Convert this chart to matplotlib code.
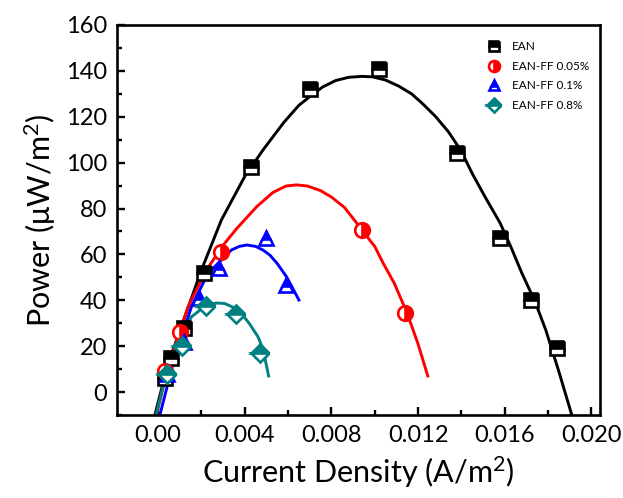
import numpy as np
import matplotlib
matplotlib.use("Agg")
import matplotlib.pyplot as plt
from matplotlib.ticker import MultipleLocator

plt.rcParams['font.family'] = ['Lato', 'DejaVu Sans']
plt.rcParams['mathtext.fontset'] = 'custom'
plt.rcParams['mathtext.rm'] = 'Lato'
plt.rcParams['mathtext.it'] = 'Lato'

# Messpunkte
ean_x = [0.0003, 0.0006, 0.0012, 0.0021, 0.0043, 0.0070, 0.0102, 0.0138, 0.0158, 0.0172, 0.0184]
ean_y = [6, 15, 28, 52, 98, 132, 141, 104, 67, 40, 19]

ff005_x = [0.0003, 0.0010, 0.0029, 0.0094, 0.0114]
ff005_y = [9, 26, 61, 70.6, 34.5]

ff01_x = [0.0004, 0.0012, 0.0019, 0.0028, 0.0050, 0.0059]
ff01_y = [8, 22, 41, 54, 67, 46.5]

ff08_x = [0.0004, 0.0011, 0.0022, 0.0036, 0.0047]
ff08_y = [8, 20, 37.5, 34, 17]

# Fit-Kurven
ean_fit_x = [-0.00015, 0.00046, 0.00107, 0.0020, 0.00292, 0.0040, 0.00484, 0.0058, 0.0065, 0.0071, 0.0076,
             0.0082, 0.0088, 0.0094, 0.0099, 0.0105, 0.0111, 0.0117, 0.0122, 0.0128, 0.0134, 0.0140,
             0.0145, 0.0151, 0.0158, 0.0163, 0.0168, 0.0174, 0.0179, 0.0185, 0.0191]
ean_fit_y = [-10, 12.5, 28.5, 53.2, 75, 94, 105.5, 117.5, 125, 129.5, 133,
             135.8, 137.2, 137.6, 137.4, 136, 133.4, 130, 125.8, 120.2, 113.5, 105,
             95.3, 85, 73.5, 63, 51.7, 39.5, 27.0, 9, -10]

ff005_fit_x = [-0.00008, 0.00046, 0.00138, 0.00223, 0.00301, 0.00363, 0.00455, 0.0053, 0.0059, 0.00639,
               0.0069, 0.0075, 0.0080, 0.0086, 0.0091, 0.0095, 0.0100, 0.0104, 0.0109, 0.0115, 0.0120, 0.01245]
ff005_fit_y = [-10, 11, 37.2, 53.2, 64.1, 71.3, 80.8, 87, 89.8, 90.3,
               89.8, 87.8, 85, 80.5, 74.5, 69.5, 63.5, 56, 47.5, 34.3, 21, 7]

ff01_fit_x = [0.00008, 0.00069, 0.00154, 0.0023, 0.00338, 0.00375, 0.00409, 0.0045, 0.00484, 0.00516,
              0.0055, 0.00593, 0.0062, 0.0065]
ff01_fit_y = [-10, 12.5, 37.2, 51.7, 61.9, 63.5, 64.1, 63.5, 61.9, 59.7,
              56, 50.2, 45.5, 40.1]

ff08_fit_x = [-0.00008, 0.00038, 0.00092, 0.00154, 0.00223, 0.0027, 0.00307, 0.00345, 0.00384, 0.0042,
              0.00461, 0.00485, 0.0051]
ff08_fit_y = [-9.3, 8.2, 21.2, 32.8, 37.9, 38.8, 38.6, 37, 34.3, 30,
              24.1, 18.5, 7]

labels = ['EAN', 'EAN-FF 0.05%', 'EAN-FF 0.1%', 'EAN-FF 0.8%']
colors = ['black', 'red', 'blue', '#008080']

fig = plt.figure(figsize=(6.23, 4.98), dpi=100)
ax = fig.add_axes([0.1878, 0.1667, 0.7752, 0.7831])

fits = [(ean_fit_x, ean_fit_y), (ff005_fit_x, ff005_fit_y), (ff01_fit_x, ff01_fit_y), (ff08_fit_x, ff08_fit_y)]
for (fx, fy), c in zip(fits, colors):
    ax.plot(fx, fy, color=c, lw=2.1, zorder=2, solid_joinstyle='round')

points = [(ean_x, ean_y, 's', 'top'), (ff005_x, ff005_y, 'o', 'right'),
          (ff01_x, ff01_y, '^', 'top'), (ff08_x, ff08_y, 'D', 'top')]
handles = []
for (px, py, m, fs), c, lab in zip(points, colors, labels):
    ms = 10.5 if m != 'D' else 9.5
    h, = ax.plot(px, py, linestyle='none', marker=m, ms=ms, fillstyle=fs,
                 markerfacecolor=c, markeredgecolor=c, markerfacecoloralt='white', mew=1.9,
                 label=lab, zorder=3)
    handles.append(h)

ax.set_xlim(-0.0019, 0.0204)
ax.set_ylim(-10, 160)
ax.xaxis.set_minor_locator(MultipleLocator(0.002))
ax.yaxis.set_major_locator(MultipleLocator(20))
ax.yaxis.set_minor_locator(MultipleLocator(10))
ax.set_xticks([0.0, 0.004, 0.008, 0.012, 0.016, 0.020])
ax.set_xticklabels(['0.00', '0.004', '0.008', '0.012', '0.016', '0.020'])
ax.tick_params(which='both', direction='in', width=1.7, labelsize=17, top=False, right=False)
ax.tick_params(which='major', length=6, pad=7)
ax.tick_params(which='minor', length=3.5)
for s in ax.spines.values():
    s.set_linewidth(1.9)

ax.set_xlabel('Current Density (A/m$^2$)', fontsize=22, labelpad=6)
ax.set_ylabel('Power (\u03bcW/m$^2$)', fontsize=22, labelpad=6)

leg = ax.legend(handles=handles, loc='upper right', frameon=False, fontsize=8.5,
                markerscale=0.75, handletextpad=0.7, labelspacing=0.72, handlelength=1.6,
                bbox_to_anchor=(1.0, 0.985))

fig.savefig('out.png', dpi=100)
